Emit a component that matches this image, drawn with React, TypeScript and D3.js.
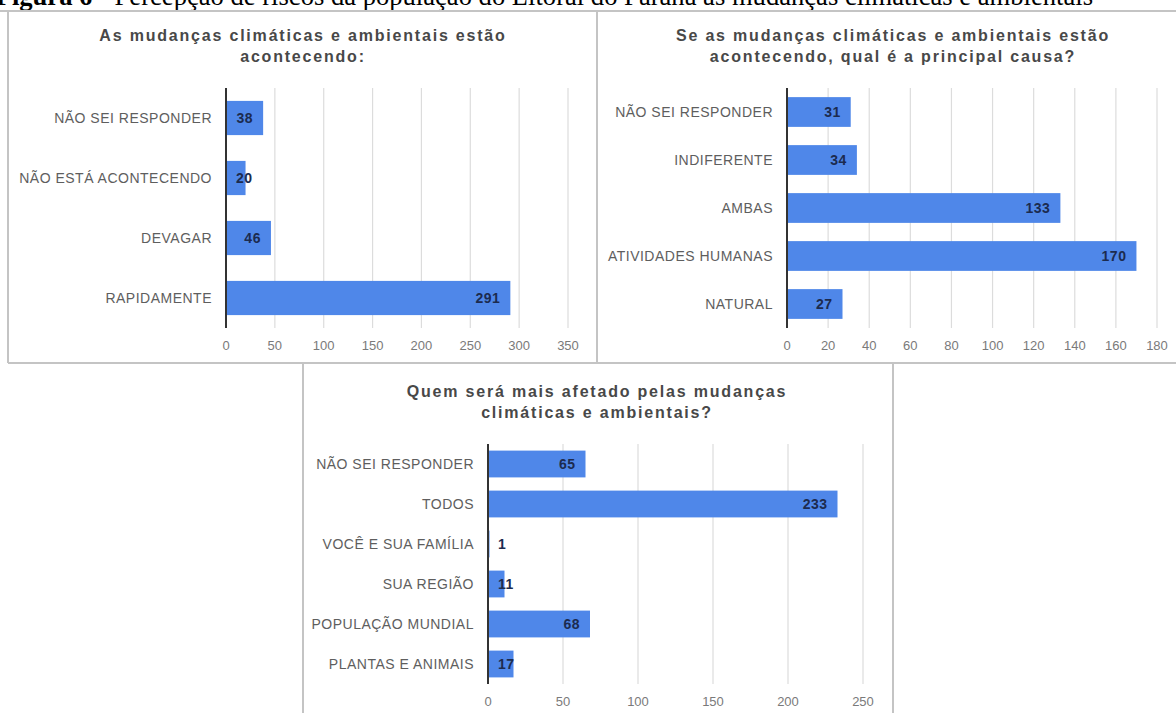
import React from "react";
import * as d3 from "d3";

const caption1 = "Figura 6";
const caption2 = " - Percepção de riscos da população do Litoral do Paraná às mudanças climáticas e ambientais";

const title1 = ["As mudanças climáticas e ambientais estão", "acontecendo:"];
const cats1 = ["NÃO SEI RESPONDER", "NÃO ESTÁ ACONTECENDO", "DEVAGAR", "RAPIDAMENTE"];
const vals1 = [38, 20, 46, 291];
const ticks1 = [0, 50, 100, 150, 200, 250, 300, 350];

const title2 = ["Se as mudanças climáticas e ambientais estão", "acontecendo, qual é a principal causa?"];
const cats2 = ["NÃO SEI RESPONDER", "INDIFERENTE", "AMBAS", "ATIVIDADES HUMANAS", "NATURAL"];
const vals2 = [31, 34, 133, 170, 27];
const ticks2 = [0, 20, 40, 60, 80, 100, 120, 140, 160, 180];

const title3 = ["Quem será mais afetado pelas mudanças", "climáticas e ambientais?"];
const cats3 = ["NÃO SEI RESPONDER", "TODOS", "VOCÊ E SUA FAMÍLIA", "SUA REGIÃO", "POPULAÇÃO MUNDIAL", "PLANTAS E ANIMAIS"];
const vals3 = [65, 233, 1, 11, 68, 17];
const ticks3 = [0, 50, 100, 150, 200, 250];

const SANS = "'Liberation Sans', Arial, sans-serif";
const BAR = "#4f87e9";
const GRID = "#dcdcdc";
const BORDER = "#c4c4c4";

type PanelProps = {
  title: string[];
  titleX: number;
  titleY: number;
  cats: string[];
  vals: number[];
  ticks: number[];
  x0: number;
  x1: number;
  top: number;
  bottom: number;
  padInner: number;
};

function Panel(p: PanelProps) {
  const max = p.ticks[p.ticks.length - 1];
  const x = d3.scaleLinear().domain([0, max]).range([p.x0, p.x1]);
  const y = d3
    .scaleBand<string>()
    .domain(p.cats)
    .range([p.top, p.bottom])
    .paddingInner(p.padInner)
    .paddingOuter(p.padInner / 2);
  const bw = y.bandwidth();
  return (
    <g>
      {p.title.map((t, i) => (
        <text
          key={"t" + i}
          x={p.titleX}
          y={p.titleY + i * 21}
          textAnchor="middle"
          fontFamily={SANS}
          fontWeight="bold"
          fontSize={16}
          letterSpacing={1.8}
          fill="#484848"
        >
          {t}
        </text>
      ))}
      {p.ticks.map((t) => (
        <g key={"g" + t}>
          {t > 0 && (
            <line x1={x(t)} x2={x(t)} y1={p.top} y2={p.bottom} stroke={GRID} strokeWidth={1.2} />
          )}
          <text
            x={x(t)}
            y={p.bottom + 17}
            textAnchor="middle"
            dominantBaseline="central"
            fontFamily={SANS}
            fontSize={13}
            fill="#7a7a7a"
          >
            {t}
          </text>
        </g>
      ))}
      {p.cats.map((c, i) => {
        const yy = y(c)!;
        const v = p.vals[i];
        const xe = x(v);
        const label = String(v);
        const tw = label.length * 8.3;
        const inside = xe - p.x0 >= tw + 18;
        return (
          <g key={c}>
            <rect x={p.x0} y={yy} width={xe - p.x0} height={bw} fill={BAR} />
            <text
              x={p.x0 - 14}
              y={yy + bw / 2}
              textAnchor="end"
              dominantBaseline="central"
              fontFamily={SANS}
              fontSize={14}
              letterSpacing={0.5}
              fill="#5e5e5e"
            >
              {c}
            </text>
            <text
              x={inside ? xe - 10 : p.x0 + 10}
              y={yy + bw / 2}
              textAnchor={inside ? "end" : "start"}
              dominantBaseline="central"
              fontFamily={SANS}
              fontSize={14}
              fontWeight="bold"
              letterSpacing={0.5}
              fill="#1c2b4f"
            >
              {label}
            </text>
          </g>
        );
      })}
      <line x1={p.x0} x2={p.x0} y1={p.top} y2={p.bottom} stroke="#333" strokeWidth={2} />
    </g>
  );
}

export default function App() {
  return (
    <svg
      width={1176}
      height={713}
      style={{ position: "absolute", left: 0, top: 0, background: "#fff" }}
    >
      <rect x={0} y={0} width={1176} height={713} fill="#fff" />
      <text
        x={1093}
        y={5}
        textAnchor="end"
        fontFamily="'Liberation Serif', 'Times New Roman', serif"
        fontSize={26.6}
        fill="#000"
      >
        <tspan fontWeight="bold">{caption1}</tspan>
        {caption2}
      </text>
      {/* borders */}
      <line x1={0} x2={1176} y1={11} y2={11} stroke={BORDER} strokeWidth={2} />
      <line x1={8} x2={1176} y1={363} y2={363} stroke={BORDER} strokeWidth={2} />
      <line x1={8} x2={8} y1={11} y2={363} stroke={BORDER} strokeWidth={2} />
      <line x1={597} x2={597} y1={11} y2={363} stroke={BORDER} strokeWidth={2} />
      <line x1={303} x2={303} y1={363} y2={713} stroke={BORDER} strokeWidth={2} />
      <line x1={893} x2={893} y1={363} y2={713} stroke={BORDER} strokeWidth={2} />

      <Panel title={title1} titleX={303} titleY={41} cats={cats1} vals={vals1} ticks={ticks1}
        x0={226} x1={568} top={88} bottom={328} padInner={0.43} />
      <Panel title={title2} titleX={893} titleY={41} cats={cats2} vals={vals2} ticks={ticks2}
        x0={787} x1={1157} top={88} bottom={328} padInner={0.38} />
      <Panel title={title3} titleX={597} titleY={397} cats={cats3} vals={vals3} ticks={ticks3}
        x0={488} x1={863} top={444} bottom={684} padInner={0.33} />
    </svg>
  );
}
